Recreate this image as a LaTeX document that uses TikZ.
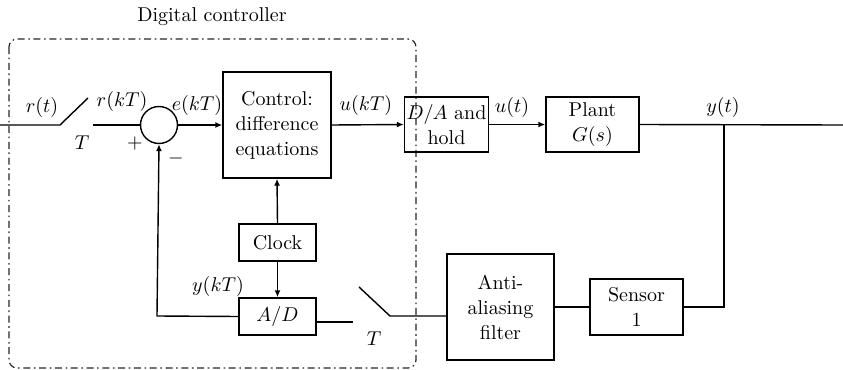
\documentclass[tikz,border=0pt]{standalone}
\usetikzlibrary{arrows.meta}

\tikzset{
  block/.style={draw, line width=0.7pt, align=center, inner sep=1pt},
  sumnode/.style={draw, circle, line width=0.7pt, minimum size=18.5pt, inner sep=0pt},
  lbl/.style={inner sep=0pt},
  wire/.style={line width=0.7pt},
  arr/.style={line width=0.7pt, -{Latex[length=3.5pt,width=3pt]}},
}

\begin{document}
\fontsize{10}{12.5}\selectfont
\begin{tikzpicture}[x=0.5pt, y=-0.5pt]
  \useasboundingbox (0,0) rectangle (843,370);

  % digital controller frame
  \draw[black!85, line width=0.6pt, rounded corners=4pt,
        dash pattern=on 3.5pt off 1.8pt on 0.8pt off 1.8pt] (9,39) rectangle (416,368);
  \node[lbl] (dctitle) at (212,17) {Digital controller};

  % blocks
  \node[sumnode] (sum) at (159,125) {};
  \node[block, minimum width=54pt, minimum height=53pt] (ctrl) at (277,125)
    {Control:\\difference\\equations};
  \node[block, minimum width=40.5pt, minimum height=27.5pt] (dac) at (446.5,124.5)
    {$D/A$ and\\hold};
  \node[block, minimum width=46.5pt, minimum height=27.5pt] (plant) at (592.5,124.5)
    {Plant\\$G(s)$};
  \node[block, minimum width=38.5pt, minimum height=18.5pt] (clock) at (277.5,242.5) {Clock};
  \node[block, minimum width=38.5pt, minimum height=18.5pt] (adc) at (277.5,316.5) {$A/D$};
  \node[block, minimum width=53.5pt, minimum height=53pt] (filter) at (500.5,307)
    {Anti-\\aliasing\\filter};
  \node[block, minimum width=46.5pt, minimum height=28pt] (sensor) at (636.5,307)
    {Sensor\\1};

  % switch points
  \coordinate (in) at (0,125);
  \coordinate (swa) at (60,125);
  \coordinate (swb) at (88,98);
  \coordinate (swc) at (93,125);
  \coordinate (swd) at (390,316);
  \coordinate (swe) at (359,287);
  \coordinate (swf) at (353,322);
  \coordinate (ybr) at (724,125);
  \coordinate (out) at (843,125);
  \coordinate (fb) at (157,316);

  % forward path
  \draw[wire] (in) -- (swa) -- (swb);
  \draw[wire] (swc) -- (sum.west);
  \draw[arr] (sum.east) -- (ctrl.west);
  \draw[arr] (ctrl.east) -- (dac.west);
  \draw[arr] (dac.east) -- (plant.west);
  \draw[wire] (plant.east) -- (out);

  % feedback path
  \draw[wire] (ybr) |- (sensor.east);
  \draw[wire] (sensor.west) -- (filter.east);
  \draw[wire] (filter.west |- swd) -- (swd) -- (swe);
  \draw[wire] (swf) -- (adc.east |- swf);
  \draw[arr] (adc.west) -- (fb) -- (sum.south);
  \draw[arr] (clock.north) -- (ctrl.south);
  \draw[arr] (clock.south) -- (adc.north);

  % labels
  \node[lbl] (lrt) at (42,107) {$r(t)$};
  \node[lbl] (lt1) at (82,143) {$T$};
  \node[lbl] (lrkt) at (122,101) {$r(kT)$};
  \node[lbl] (lekt) at (197,105) {$e(kT)$};
  \node[lbl] (lplus) at (135,143) {$+$};
  \node[lbl] (lminus) at (176,158) {$-$};
  \node[lbl] (lukt) at (366,105) {$u(kT)$};
  \node[lbl] (lut) at (512,107) {$u(t)$};
  \node[lbl] (lyt) at (723,107) {$y(t)$};
  \node[lbl] (lykt) at (218,286) {$y(kT)$};
  \node[lbl] (lt2) at (374,339) {$T$};
\end{tikzpicture}
\end{document}
